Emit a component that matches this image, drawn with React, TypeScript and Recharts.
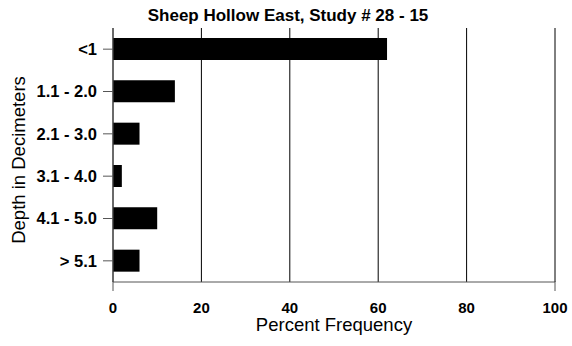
import { BarChart, Bar, XAxis, YAxis, CartesianGrid } from "recharts";

const depths = ["<1", "1.1 - 2.0", "2.1 - 3.0", "3.1 - 4.0", "4.1 - 5.0", "> 5.1"];
const percents = [62, 14, 6, 2, 10, 6];
const xTicks = [0, 20, 40, 60, 80, 100];

const FONT = "'Liberation Sans', Arial, Helvetica, sans-serif";
const AXIS = "#555";

const data = depths.map((d, i) => ({ depth: d, pct: percents[i] }));

// x tick: label, plus a short outward mark at the two ends only
function XTick(props: any) {
  const { x, y, payload } = props;
  const v = payload.value;
  const end = v === xTicks[0] || v === xTicks[xTicks.length - 1];
  return (
    <g>
      {end && <line x1={x} x2={x} y1={y - 21} y2={y - 11} stroke={AXIS} />}
      <text
        x={x}
        y={y}
        dy="0.71em"
        textAnchor="middle"
        fontSize={15}
        fontWeight="bold"
        fontFamily={FONT}
        fill="#000"
      >
        {v}
      </text>
    </g>
  );
}

export default function App() {
  return (
    <div style={{ position: "absolute", left: 0, top: 0, width: 572, height: 346, background: "#fff" }}>
      <BarChart
        width={572}
        height={346}
        data={data}
        layout="vertical"
        margin={{ top: 28, right: 17, left: 0, bottom: 34 }}
        style={{ fontFamily: FONT }}
      >
        <CartesianGrid horizontal={false} stroke="#000" strokeWidth={1} />
        <XAxis
          type="number"
          domain={[0, 100]}
          ticks={xTicks}
          height={30}
          tickLine={false}
          tickSize={0}
          tickMargin={20}
          axisLine={{ stroke: AXIS }}
          tick={<XTick />}
        />
        <YAxis
          type="category"
          dataKey="depth"
          width={113}
          tickSize={10}
          tickMargin={6}
          axisLine={{ stroke: AXIS }}
          tickLine={{ stroke: AXIS }}
          tick={{ fill: "#000", fontSize: 16.5, fontWeight: "bold", fontFamily: FONT }}
        />
        <Bar dataKey="pct" fill="#000" barSize={22} isAnimationActive={false} />
        <text
          x={288}
          y={21}
          textAnchor="middle"
          fontSize={17}
          fontWeight="bold"
          fontFamily={FONT}
          fill="#000"
        >
          Sheep Hollow East, Study # 28 - 15
        </text>
        <text
          x={334}
          y={331}
          textAnchor="middle"
          fontSize={18.5}
          fontFamily={FONT}
          fill="#000"
        >
          Percent Frequency
        </text>
        <text
          x={18}
          y={160}
          transform="rotate(-90 18 160)"
          textAnchor="middle"
          dominantBaseline="central"
          fontSize={18.5}
          fontFamily={FONT}
          fill="#000"
        >
          Depth in Decimeters
        </text>
      </BarChart>
    </div>
  );
}
